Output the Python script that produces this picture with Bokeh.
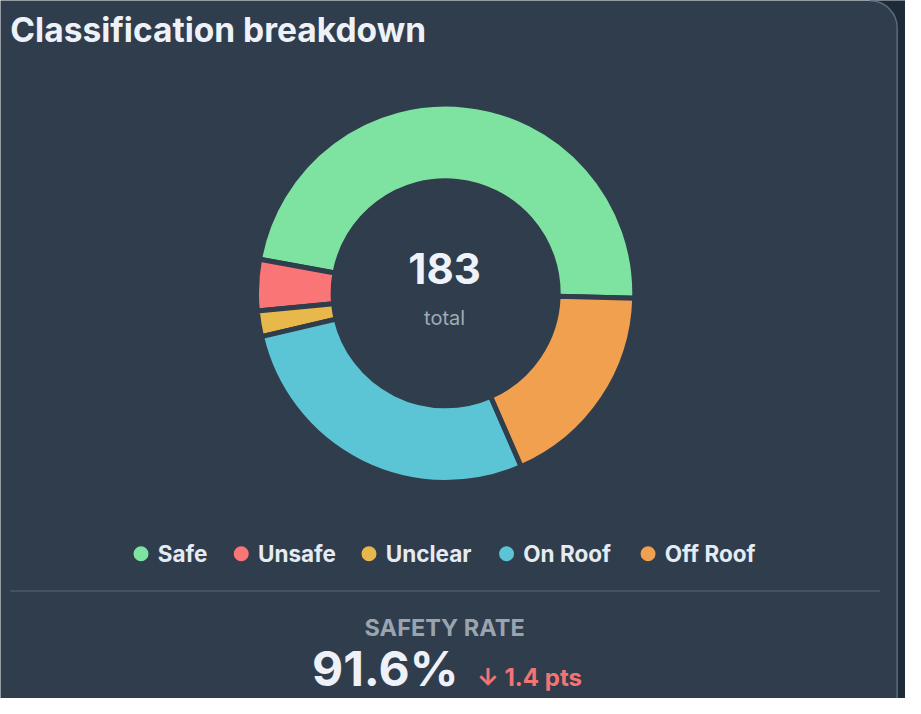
import numpy as np
from bokeh.plotting import figure
from bokeh.models import Range1d, ColumnDataSource
from bokeh.core.properties import value
from bokeh.embed import file_html
from bokeh.resources import INLINE

# data
labels = ["Safe", "Unsafe", "Unclear", "On Roof", "Off Roof"]
counts = [87, 8, 4, 51, 33]
colors = ["#7ee2a0", "#fa7676", "#e8b84b", "#5bc4d5", "#f0a04e"]
delta_pts = -1.4

total = sum(counts)
safety_rate = 100 * counts[0] / (counts[0] + counts[1])

# layout: data units are pixels of a 921x714 card, y measured from the bottom
CW, CH = 921, 714
BG = "#2f3d4c"
FONT = "Inter"
legend_x = [143, 245, 375, 515, 659]   # dot centres
cx, cy = 453, 414.5                    # donut centre

p = figure(width=905, height=698, x_range=Range1d(0, CW), y_range=Range1d(0, CH),
           output_backend="svg", toolbar_location=None,
           x_axis_location=None, y_axis_location=None,
           background_fill_color=BG, border_fill_color=BG, min_border=0)
p.grid.visible = False
p.outline_line_color = None

# card corner / border at top right
a = np.linspace(0, np.pi / 2, 30)
ccx, ccy, rr = 885, 686, 27.5
p.patch(x=list(ccx + rr * np.cos(a)) + [ccx, CW, CW, ccx + rr],
        y=list(ccy + rr * np.sin(a)) + [CH, CH, 0, 0],
        fill_color="#1f2a38", line_color=None)
p.arc(x=ccx, y=ccy, radius=rr, start_angle=0, end_angle=np.pi / 2, line_color="#5c6b80", line_width=1.5)
p.segment(x0=ccx + rr, y0=0, x1=ccx + rr, y1=ccy, line_color="#5c6b80", line_width=1.5)

# donut
start = np.radians(-1.5)
frac = np.cumsum([0] + counts) / total * 2 * np.pi
src = ColumnDataSource(dict(start=start + frac[:-1], end=start + frac[1:], color=colors, label=labels))
p.annular_wedge(x=cx, y=cy, inner_radius=114.5, outer_radius=192.5,
                start_angle="start", end_angle="end", fill_color="color",
                line_color=BG, line_width=5, source=src)


def label(x, y, txt, size, color, align="center", bold=True):
    p.text(x=[x], y=[y], text=[txt], text_font=value(FONT), text_font_size=size,
           text_font_style="bold" if bold else "normal", text_color=color,
           text_align=align, text_baseline="middle")


# title
label(10, 683.5, "Classification breakdown", "33.5px", "#eef2f8", align="left")

# centre labels
label(cx - 1, 439.5, str(total), "42px", "#eef2fa")
label(cx - 1, 389, "total", "20px", "#a0abb8", bold=False)

# legend
p.scatter(x=legend_x, y=[148] * len(labels), size=15, fill_color=colors, line_color=None)
p.text(x=[v + 17 for v in legend_x], y=[148] * len(labels), text=labels, text_font=value(FONT),
       text_font_size="22.5px", text_font_style="bold", text_color="#e5ebf3",
       text_align="left", text_baseline="middle")

# separator
p.segment(x0=10, y0=110, x1=895, y1=110, line_color="#4b5a6b", line_width=1.5)

# safety rate
label(452, 72.5, "SAFETY RATE", "23.5px", "#9aa4b0")
label(466, 31, f"{safety_rate:.1f}%", "48px", "#eef2f8", align="right")
arrow = "\u2193" if delta_pts < 0 else "\u2191"
label(485, 21.5, f"{arrow} {abs(delta_pts)} pts", "24px", "#f47474", align="left")

open("out.html", "w").write(file_html(p, INLINE))
